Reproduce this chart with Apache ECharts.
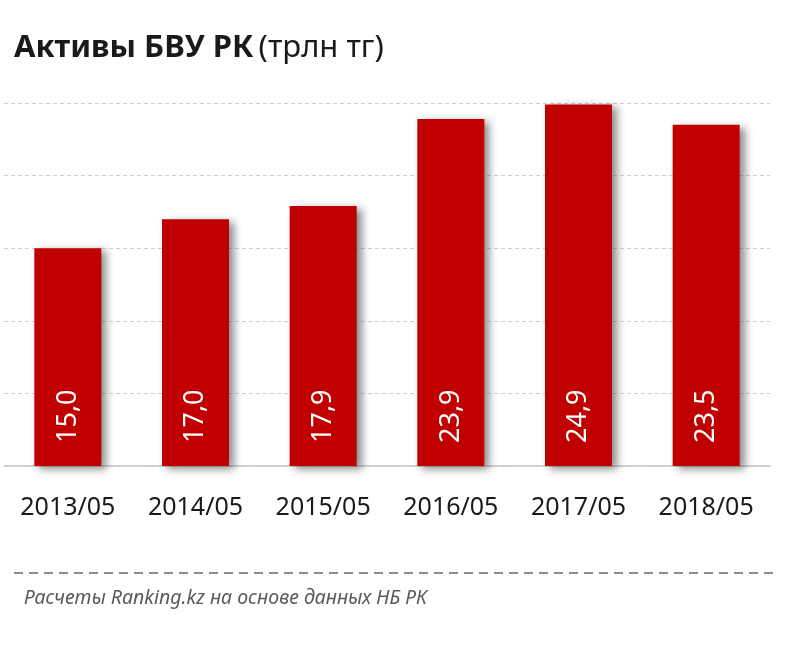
<!DOCTYPE html>
<html>
<head>
<meta charset="utf-8">
<script src="https://cdn.jsdelivr.net/npm/echarts@6/dist/echarts.min.js"></script>
<style>
html,body{margin:0;padding:0;background:#fff;}
#chart{width:800px;height:660px;}
</style>
</head>
<body>
<div id="chart"></div>
<script>
const categories = ['2013/05','2014/05','2015/05','2016/05','2017/05','2018/05'];
const assets = [15.0, 17.0, 17.9, 23.9, 24.9, 23.5];
const titleBold = 'Активы БВУ РК';
const titleUnit = '(трлн тг)';
const sourceText = 'Расчеты Ranking.kz на основе данных НБ РК';

const chart = echarts.init(document.getElementById('chart'), null, {renderer:'canvas'});
const font = '"Noto Sans", "Open Sans", sans-serif';
chart.setOption({
  animation: false,
  backgroundColor: '#ffffff',
  title: {
    left: 9, top: 28,
    text: '{b|' + titleBold + '} {n|' + titleUnit + '}',
    textStyle: {
      rich: {
        b: {fontFamily: font, fontWeight: 'bold', fontSize: 31, color: '#1a1a1a'},
        n: {fontFamily: font, fontWeight: 'normal', fontSize: 31, color: '#1a1a1a'}
      }
    }
  },
  grid: {left: 4, right: 30, top: 103, bottom: 194, containLabel: false},
  xAxis: {
    type: 'category',
    data: categories,
    axisLine: {lineStyle: {color: '#c8c8c8', width: 1.5}},
    axisTick: {show: false},
    axisLabel: {interval: 0, fontFamily: font, fontSize: 25, color: '#1a1a1a', margin: 29}
  },
  yAxis: {
    type: 'value', min: 0, max: 25, interval: 5,
    axisLabel: {show: false},
    axisLine: {show: false},
    axisTick: {show: false},
    splitLine: {lineStyle: {color: '#d0d0d0', type: [4, 3], width: 1}}
  },
  series: [{
    type: 'bar',
    data: assets,
    barWidth: 67,
    itemStyle: {
      color: '#c00000',
      shadowColor: 'rgba(0,0,0,0.45)',
      shadowBlur: 8,
      shadowOffsetX: 5,
      shadowOffsetY: 3
    },
    label: {
      show: true,
      position: 'insideBottom',
      distance: 23,
      rotate: 90,
      align: 'left',
      verticalAlign: 'middle',
      fontFamily: font,
      fontSize: 27,
      color: '#ffffff',
      formatter: p => p.value.toFixed(1).replace('.', ',')
    }
  }],
  graphic: [
    {type: 'line', shape: {x1: 14, y1: 573, x2: 778, y2: 573},
     style: {stroke: '#8c8c8c', lineWidth: 2, lineDash: [9, 6]}},
    {type: 'text', left: 24, top: 588,
     style: {text: sourceText, font: 'italic 19.5px "Noto Sans", sans-serif', fill: '#5a5a5a'}}
  ]
});
</script>
</body>
</html>
